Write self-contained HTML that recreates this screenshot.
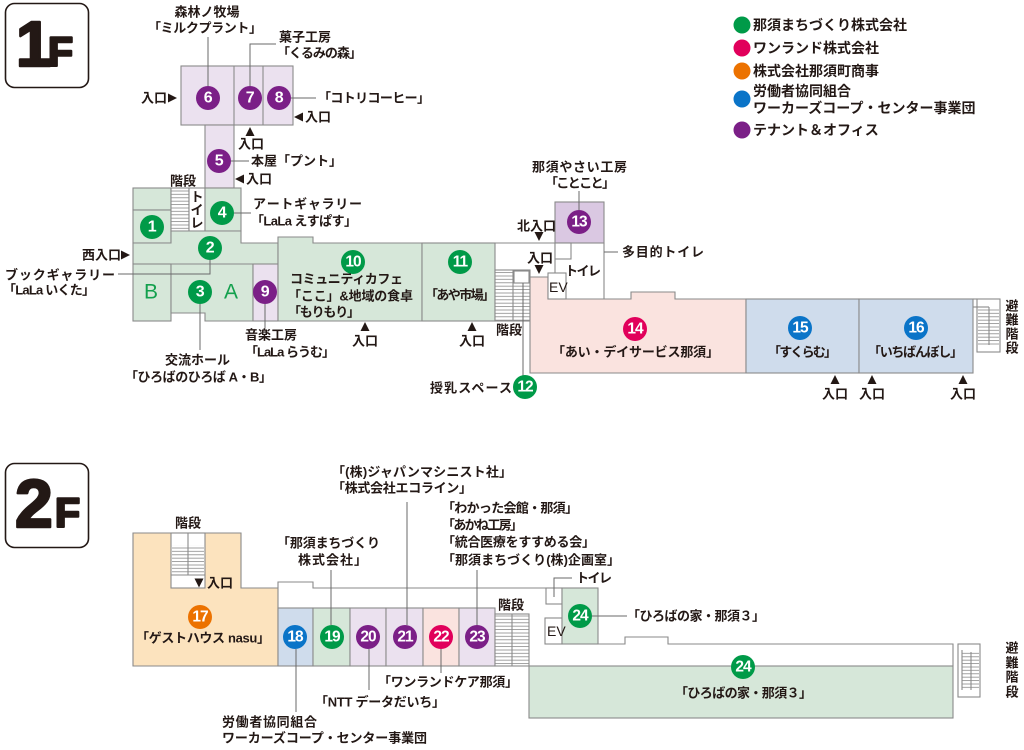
<!DOCTYPE html>
<html><head><meta charset="utf-8">
<style>
html,body{margin:0;padding:0;background:#fff;}
svg{display:block;}
text{font-family:"Liberation Sans","Noto Sans CJK JP",sans-serif;font-weight:bold;fill:#231815;font-size:13px;dominant-baseline:central;}
.n{fill:#fff;font-size:16px;text-anchor:middle;letter-spacing:-0.5px;}
.n2{fill:#fff;font-size:15.5px;text-anchor:middle;letter-spacing:-1px;}
.m{text-anchor:middle;}
.lg{font-size:14px;}
.ab{fill:#13a04d;font-size:21px;font-weight:normal;text-anchor:middle;}
.w{stroke:#8a8a8a;stroke-width:1.1;}
.c{stroke:#6a6a6a;stroke-width:1;fill:none;}
.hd{dominant-baseline:alphabetic;font-weight:900;stroke:#231815;stroke-width:2.5;stroke-linejoin:round;}
</style></head><body>
<svg width="1024" height="750" viewBox="0 0 1024 750">
<defs>
<pattern id="st" width="4" height="3.4" patternUnits="userSpaceOnUse">
<rect width="4" height="3.4" fill="#fff"/>
<line x1="0" y1="0.6" x2="4" y2="0.6" stroke="#8a8a8a" stroke-width="0.8"/>
</pattern>
</defs>

<!-- ===== 1F heading ===== -->
<rect x="5.5" y="3.5" width="83" height="84" rx="9" fill="#fff" stroke="#231815" stroke-width="1.6"/>
<text class="hd" x="16" y="66" style="font-size:64px;">1</text>
<text class="hd" x="48" y="66" style="font-size:41px;">F</text>

<!-- ===== Legend ===== -->
<circle cx="742" cy="25" r="8.5" fill="#009a48"/>
<circle cx="742" cy="48" r="8.5" fill="#e1005b"/>
<circle cx="742" cy="71" r="8.5" fill="#ec7200"/>
<circle cx="742" cy="99" r="8.5" fill="#0a74c8"/>
<circle cx="742" cy="130" r="8.5" fill="#7b1f87"/>
<text class="lg" x="753" y="25">那須まちづくり株式会社</text>
<text class="lg" x="753" y="48">ワンランド株式会社</text>
<text class="lg" x="753" y="71">株式会社那須町商事</text>
<text class="lg" x="753" y="91">労働者協同組合</text>
<text class="lg" x="753" y="108">ワーカーズコープ・センター事業団</text>
<text class="lg" x="753" y="130">テナント＆オフィス</text>

<!-- ===== 1F shapes ===== -->
<rect class="w" x="181" y="66" width="112" height="59" fill="#ebe1ef"/>
<line class="w" x1="234" y1="66" x2="234" y2="125"/>
<line class="w" x1="263" y1="66" x2="263" y2="125"/>
<rect class="w" x="205" y="125" width="29" height="63" fill="#ebe1ef"/>

<rect class="w" x="133" y="188" width="38" height="22" fill="#d6e7d9"/>
<rect class="w" x="133" y="210" width="38" height="33" fill="#d6e7d9"/>
<rect class="w" x="171" y="188" width="18" height="43" fill="url(#st)"/>
<rect class="w" x="189" y="188" width="16" height="43" fill="#fff"/>
<rect class="w" x="205" y="188" width="36" height="43" fill="#d6e7d9"/>
<polygon class="w" points="171,231 241,231 241,243 278,243 278,264 133,264 133,243 171,243" fill="#d6e7d9"/>
<rect class="w" x="133" y="264" width="38" height="57" fill="#d6e7d9"/>
<polygon class="w" points="171,264 253,264 253,321 205,321 205,313 171,313" fill="#d6e7d9"/>
<rect class="w" x="253" y="264" width="25" height="57" fill="#ebe1ef"/>
<polygon class="w" points="278,237 313,237 313,243 422,243 422,321 278,321" fill="#d6e7d9"/>
<rect class="w" x="422" y="243" width="73" height="78" fill="#d6e7d9"/>

<!-- white service area 1F -->
<line class="w" x1="495" y1="243" x2="604" y2="243"/>
<rect class="w" x="555" y="202" width="49" height="41" fill="#dac8e2"/>
<line class="w" x1="604" y1="243" x2="604" y2="299"/>
<line class="w" x1="555" y1="243" x2="555" y2="273"/>
<rect class="w" x="555" y="243" width="16" height="16" fill="#fff"/>
<rect class="w" x="495" y="270" width="35" height="51" fill="url(#st)"/>
<line class="w" x1="513" y1="270" x2="513" y2="321"/>
<rect class="w" x="514" y="271" width="15" height="12" fill="#fff"/>
<polygon class="w" points="530,277 548,277 548,299 631,299 631,292 675,292 675,299 746,299 746,373 530,373" fill="#fae3df"/>
<rect class="w" x="548" y="273" width="18" height="26" fill="#fff"/>
<rect class="w" x="746" y="299" width="113" height="74" fill="#cfdcec"/>
<rect class="w" x="859" y="299" width="114" height="74" fill="#cfdcec"/>
<!-- emergency stairs 1F -->
<rect class="w" x="977" y="299" width="23" height="53" fill="#fff"/>
<rect x="978" y="308" width="21" height="37" fill="url(#st)"/>
<line class="w" x1="973" y1="299" x2="977" y2="299"/>
<line class="w" x1="973" y1="307" x2="989" y2="307"/>
<line class="w" x1="989" y1="307" x2="989" y2="345"/>

<!-- ===== 1F connectors ===== -->
<polyline class="c" points="208,37 208,86"/>
<polyline class="c" points="250,86 250,44 276,44"/>
<polyline class="c" points="291,98 316,98"/>
<polyline class="c" points="231,161 249,161"/>
<polyline class="c" points="234,213 251,213"/>
<polyline class="c" points="118,274 210,274 210,260"/>
<polyline class="c" points="200,304 200,350"/>
<polyline class="c" points="265,304 265,328"/>
<polyline class="c" points="579,191 579,210"/>
<polyline class="c" points="604,252 618,252"/>
<polyline class="c" points="523,283 523,376"/>

<!-- ===== 1F circles ===== -->
<g>
<circle cx="152" cy="227" r="12" fill="#009a48"/><text class="n" x="152" y="227">1</text>
<circle cx="210" cy="248" r="12" fill="#009a48"/><text class="n" x="210" y="248">2</text>
<circle cx="200" cy="292" r="12" fill="#009a48"/><text class="n" x="200" y="292">3</text>
<circle cx="222" cy="213" r="12" fill="#009a48"/><text class="n" x="222" y="213">4</text>
<circle cx="219" cy="161" r="12" fill="#7b1f87"/><text class="n" x="219" y="161">5</text>
<circle cx="208" cy="98" r="12" fill="#7b1f87"/><text class="n" x="208" y="98">6</text>
<circle cx="250" cy="98" r="12" fill="#7b1f87"/><text class="n" x="250" y="98">7</text>
<circle cx="279" cy="98" r="12" fill="#7b1f87"/><text class="n" x="279" y="98">8</text>
<circle cx="265" cy="292" r="12" fill="#7b1f87"/><text class="n" x="265" y="292">9</text>
<circle cx="353" cy="262" r="12" fill="#009a48"/><text class="n2" x="353" y="262">10</text>
<circle cx="460" cy="262" r="12" fill="#009a48"/><text class="n2" x="460" y="262">11</text>
<circle cx="525" cy="387" r="12" fill="#009a48"/><text class="n2" x="525" y="387">12</text>
<circle cx="579" cy="222" r="12" fill="#7b1f87"/><text class="n2" x="579" y="222">13</text>
<circle cx="635" cy="329" r="12" fill="#e1005b"/><text class="n2" x="635" y="329">14</text>
<circle cx="800" cy="328" r="12" fill="#0a74c8"/><text class="n2" x="800" y="328">15</text>
<circle cx="916" cy="328" r="12" fill="#0a74c8"/><text class="n2" x="916" y="328">16</text>
</g>
<text class="ab" x="151" y="292">B</text>
<text class="ab" x="231" y="292">A</text>

<!-- ===== 1F labels ===== -->
<text class="m" x="207" y="12">森林ノ牧場</text>
<text x="148" y="28" textLength="114" lengthAdjust="spacing">「ミルクプラント」</text>
<text x="279" y="37">菓子工房</text>
<text x="277" y="53" textLength="85" lengthAdjust="spacing">「くるみの森」</text>
<text x="318" y="98" textLength="112" lengthAdjust="spacing">「コトリコーヒー」</text>
<text x="141" y="98">入口</text><polygon points="168,93.5 177,98 168,102.5" fill="#231815"/>
<polygon points="303,112.5 294,117 303,121.5" fill="#231815"/><text x="305" y="117">入口</text>
<polygon points="250,127 254.5,136 245.5,136" fill="#231815"/><text x="238" y="144">入口</text>
<text x="251" y="161" textLength="91" lengthAdjust="spacing">本屋「プント」</text>
<polygon points="244,174.5 235,179 244,183.5" fill="#231815"/><text x="246" y="179">入口</text>
<text x="170" y="181">階段</text>
<text x="253" y="204" textLength="109" lengthAdjust="spacing">アートギャラリー</text>
<text x="251" y="221" textLength="106" lengthAdjust="spacing">「LaLa えすぱす」</text>
<text class="m" x="197" y="197">ト</text>
<text class="m" x="197" y="210">イ</text>
<text class="m" x="197" y="223">レ</text>
<text x="82" y="255">西入口</text><polygon points="121,250.5 130,255 121,259.5" fill="#231815"/>
<text x="5" y="275" textLength="110" lengthAdjust="spacing">ブックギャラリー</text>
<text x="3" y="290" textLength="92" lengthAdjust="spacing">「LaLa いくた」</text>
<text x="290" y="279" textLength="113" lengthAdjust="spacing">コミュニティカフェ</text>
<text x="288" y="296" textLength="125" lengthAdjust="spacing">「ここ」&amp;地域の食卓</text>
<text x="288" y="312" textLength="72" lengthAdjust="spacing">「もりもり」</text>
<text x="425" y="295" textLength="70" lengthAdjust="spacing">「あや市場」</text>
<polygon points="365,322 369.5,331 360.5,331" fill="#231815"/><text x="352" y="341">入口</text>
<polygon points="472,322 476.5,331 467.5,331" fill="#231815"/><text x="459" y="341">入口</text>
<text x="496" y="330">階段</text>
<text x="245" y="335">音楽工房</text>
<text x="245" y="352" textLength="90" lengthAdjust="spacing">「LaLa らうむ」</text>
<text x="165" y="360">交流ホール</text>
<text x="125" y="377" textLength="147" lengthAdjust="spacing">「ひろばのひろば A・B」</text>
<text x="430" y="388" textLength="82" lengthAdjust="spacing">授乳スペース</text>
<text x="532" y="167" textLength="95" lengthAdjust="spacing">那須やさい工房</text>
<text x="545" y="183" textLength="70" lengthAdjust="spacing">「ことこと」</text>
<text x="517" y="226">北入口</text>
<polygon points="534.5,232 543.5,232 539,241" fill="#231815"/>
<text x="527" y="258">入口</text>
<polygon points="534.5,265 543.5,265 539,274" fill="#231815"/>
<text x="622" y="252" textLength="82" lengthAdjust="spacing">多目的トイレ</text>
<text x="565" y="271" textLength="36" lengthAdjust="spacing">トイレ</text>
<text x="549" y="287" style="font-weight:normal;font-size:14px;">EV</text>
<text x="552" y="352" textLength="167" lengthAdjust="spacing">「あい・デイサービス那須」</text>
<text x="768" y="352" textLength="69" lengthAdjust="spacing">「すくらむ」</text>
<text x="868" y="352" textLength="95" lengthAdjust="spacing">「いちばんぼし」</text>
<polygon points="835,375 839.5,384 830.5,384" fill="#231815"/><text x="822" y="394">入口</text>
<polygon points="872,375 876.5,384 867.5,384" fill="#231815"/><text x="859" y="394">入口</text>
<polygon points="963,375 967.5,384 958.5,384" fill="#231815"/><text x="950" y="394">入口</text>
<text class="m" x="1012" y="306">避</text>
<text class="m" x="1012" y="320">難</text>
<text class="m" x="1012" y="334">階</text>
<text class="m" x="1012" y="348">段</text>

<!-- ===== 2F heading ===== -->
<rect x="5.5" y="463.5" width="83" height="84" rx="9" fill="#fff" stroke="#231815" stroke-width="1.6"/>
<text class="hd" x="15" y="527" style="font-size:68px;">2</text>
<text class="hd" x="55" y="527" style="font-size:41px;">F</text>

<!-- ===== 2F shapes ===== -->
<polygon class="w" points="133,533 241,533 241,588 278,588 278,666 133,666" fill="#fce3be"/>
<rect class="w" x="171" y="533" width="34" height="55" fill="#fff"/>
<rect x="172" y="545" width="32" height="30" fill="url(#st)"/>
<line class="w" x1="188" y1="533" x2="188" y2="575"/>
<line class="w" x1="171" y1="575" x2="205" y2="575"/>
<polyline class="w" fill="none" points="278,588 278,582 313,582 313,588 598,588"/>
<rect class="w" x="278" y="608" width="35" height="58" fill="#cfdcec"/>
<rect class="w" x="313" y="608" width="37" height="58" fill="#d6e7d9"/>
<rect class="w" x="350" y="608" width="36" height="58" fill="#ebe1ef"/>
<rect class="w" x="386" y="608" width="37" height="58" fill="#ebe1ef"/>
<rect class="w" x="423" y="608" width="36" height="58" fill="#fae3df"/>
<rect class="w" x="459" y="608" width="36" height="58" fill="#ebe1ef"/>
<rect class="w" x="495" y="614" width="34" height="52" fill="url(#st)"/>
<line class="w" x1="512" y1="614" x2="512" y2="666"/>
<rect class="w" x="546" y="588" width="16" height="16" fill="#fff"/>
<rect class="w" x="545" y="618" width="17" height="26" fill="#fff"/>
<rect class="w" x="562" y="588" width="36" height="56" fill="#d6e7d9"/>
<polyline class="w" fill="none" points="545,644 625,644 625,637 668,637 668,644 953,644 953,666"/>
<rect class="w" x="529" y="666" width="424" height="52" fill="#d6e7d9"/>
<rect class="w" x="958" y="644" width="22" height="53" fill="#fff"/>
<rect x="962" y="652" width="17" height="38" fill="url(#st)"/>
<line class="w" x1="962" y1="650" x2="962" y2="690"/>
<line class="w" x1="971" y1="652" x2="971" y2="690"/>

<!-- ===== 2F connectors ===== -->
<polyline class="c" points="331,570 331,625"/>
<polyline class="c" points="407,502 407,625"/>
<polyline class="c" points="477,570 477,625"/>
<polyline class="c" points="296,649 296,712"/>
<polyline class="c" points="369,649 369,690"/>
<polyline class="c" points="441,649 441,673"/>
<polyline class="c" points="592,616 627,616"/>
<polyline class="c" points="554,597 554,578 572,578"/>

<!-- ===== 2F circles ===== -->
<circle cx="200" cy="617" r="12" fill="#ec7200"/><text class="n2" x="200" y="617">17</text>
<circle cx="295" cy="637" r="12" fill="#0a74c8"/><text class="n2" x="295" y="637">18</text>
<circle cx="332" cy="637" r="12" fill="#009a48"/><text class="n2" x="332" y="637">19</text>
<circle cx="368" cy="637" r="12" fill="#7b1f87"/><text class="n2" x="368" y="637">20</text>
<circle cx="405" cy="637" r="12" fill="#7b1f87"/><text class="n2" x="405" y="637">21</text>
<circle cx="441" cy="637" r="12" fill="#e1005b"/><text class="n2" x="441" y="637">22</text>
<circle cx="477" cy="637" r="12" fill="#7b1f87"/><text class="n2" x="477" y="637">23</text>
<circle cx="580" cy="616" r="12" fill="#009a48"/><text class="n2" x="580" y="616">24</text>
<circle cx="743" cy="667" r="12" fill="#009a48"/><text class="n2" x="743" y="667">24</text>

<!-- ===== 2F labels ===== -->
<text class="m" x="188" y="523">階段</text>
<polygon points="194.5,578.5 203.5,578.5 199,587.5" fill="#231815"/><text x="207" y="583">入口</text>
<text x="136" y="638" textLength="134" lengthAdjust="spacing">「ゲストハウス nasu」</text>
<text x="332" y="472" textLength="180" lengthAdjust="spacing">「(株)ジャパンマシニスト社」</text>
<text x="332" y="488" textLength="140" lengthAdjust="spacing">「株式会社エコライン」</text>
<text x="442" y="508" textLength="136" lengthAdjust="spacing">「わかった会館・那須」</text>
<text x="442" y="525" textLength="81" lengthAdjust="spacing">「あかね工房」</text>
<text x="442" y="542" textLength="153" lengthAdjust="spacing">「統合医療をすすめる会」</text>
<text x="442" y="560" textLength="178" lengthAdjust="spacing">「那須まちづくり(株)企画室」</text>
<text x="277" y="543" textLength="103" lengthAdjust="spacing">「那須まちづくり</text>
<text x="298" y="560" textLength="69" lengthAdjust="spacing">株式会社」</text>
<text x="498" y="605">階段</text>
<text x="576" y="578" textLength="36" lengthAdjust="spacing">トイレ</text>
<text x="547" y="631" style="font-weight:normal;font-size:14px;">EV</text>
<text x="627" y="616" textLength="138" lengthAdjust="spacing">「ひろばの家・那須３」</text>
<text x="675" y="693" textLength="137" lengthAdjust="spacing">「ひろばの家・那須３」</text>
<text x="378" y="682" textLength="140" lengthAdjust="spacing">「ワンランドケア那須」</text>
<text x="315" y="702" textLength="130" lengthAdjust="spacing">「NTT データだいち」</text>
<text x="222" y="722" textLength="95" lengthAdjust="spacing">労働者協同組合</text>
<text x="222" y="738" textLength="205" lengthAdjust="spacing">ワーカーズコープ・センター事業団</text>
<text class="m" x="1012" y="648">避</text>
<text class="m" x="1012" y="663">難</text>
<text class="m" x="1012" y="677">階</text>
<text class="m" x="1012" y="692">段</text>
</svg>
</body></html>
